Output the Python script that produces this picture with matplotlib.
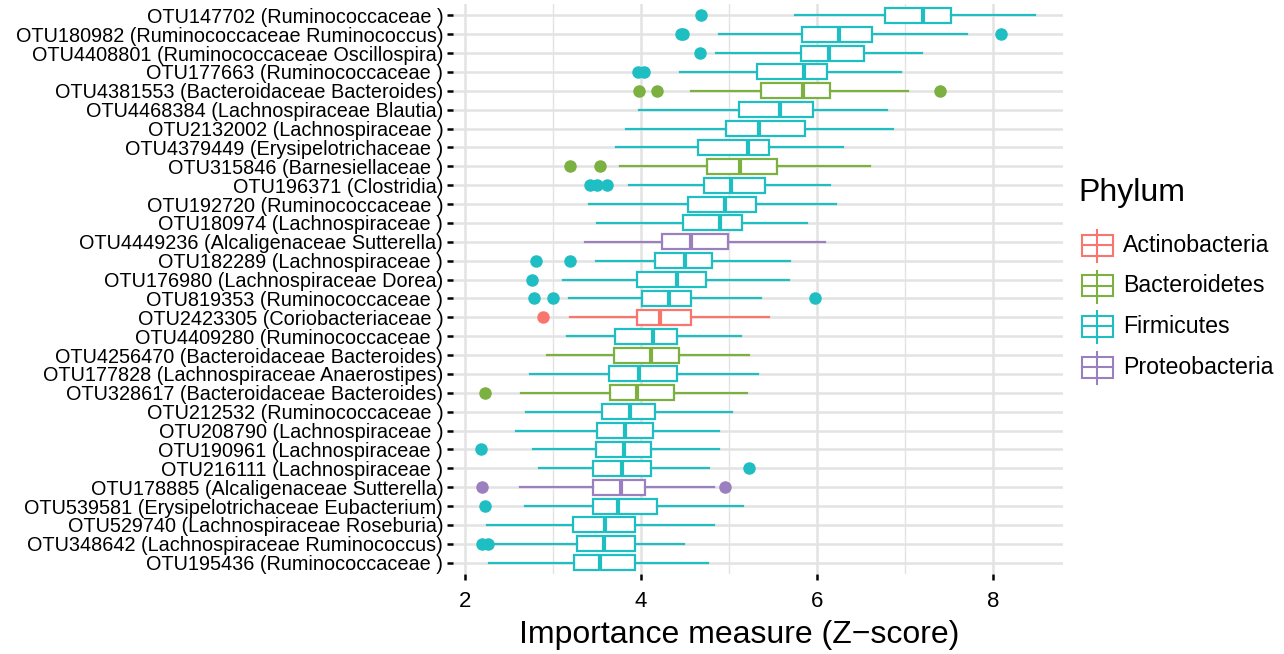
import matplotlib
matplotlib.use("Agg")
import matplotlib.pyplot as plt
from matplotlib.patches import Rectangle

plt.rcParams["font.family"] = ["Liberation Sans", "DejaVu Sans"]

# rows top -> bottom
OTUS = ["OTU147702 (Ruminococcaceae )", "OTU180982 (Ruminococcaceae Ruminococcus)",
        "OTU4408801 (Ruminococcaceae Oscillospira)", "OTU177663 (Ruminococcaceae )",
        "OTU4381553 (Bacteroidaceae Bacteroides)", "OTU4468384 (Lachnospiraceae Blautia)",
        "OTU2132002 (Lachnospiraceae )", "OTU4379449 (Erysipelotrichaceae )",
        "OTU315846 (Barnesiellaceae )", "OTU196371 (Clostridia)",
        "OTU192720 (Ruminococcaceae )", "OTU180974 (Lachnospiraceae )",
        "OTU4449236 (Alcaligenaceae Sutterella)", "OTU182289 (Lachnospiraceae )",
        "OTU176980 (Lachnospiraceae Dorea)", "OTU819353 (Ruminococcaceae )",
        "OTU2423305 (Coriobacteriaceae )", "OTU4409280 (Ruminococcaceae )",
        "OTU4256470 (Bacteroidaceae Bacteroides)", "OTU177828 (Lachnospiraceae Anaerostipes)",
        "OTU328617 (Bacteroidaceae Bacteroides)", "OTU212532 (Ruminococcaceae )",
        "OTU208790 (Lachnospiraceae )", "OTU190961 (Lachnospiraceae )",
        "OTU216111 (Lachnospiraceae )", "OTU178885 (Alcaligenaceae Sutterella)",
        "OTU539581 (Erysipelotrichaceae Eubacterium)", "OTU529740 (Lachnospiraceae Roseburia)",
        "OTU348642 (Lachnospiraceae Ruminococcus)", "OTU195436 (Ruminococcaceae )"]
PHYLUM = ["Firmicutes", "Firmicutes", "Firmicutes", "Firmicutes", "Bacteroidetes",
          "Firmicutes", "Firmicutes", "Firmicutes", "Bacteroidetes", "Firmicutes",
          "Firmicutes", "Firmicutes", "Proteobacteria", "Firmicutes", "Firmicutes",
          "Firmicutes", "Actinobacteria", "Firmicutes", "Bacteroidetes", "Firmicutes",
          "Bacteroidetes", "Firmicutes", "Firmicutes", "Firmicutes", "Firmicutes",
          "Proteobacteria", "Firmicutes", "Firmicutes", "Firmicutes", "Firmicutes"]
WHIS_LO = [5.75, 4.89, 4.85, 4.44, 4.57, 3.98, 3.83, 3.72, 3.76, 3.86,
           3.41, 3.50, 3.37, 3.49, 3.12, 3.18, 3.19, 3.16, 2.93, 2.74,
           2.64, 2.70, 2.58, 2.77, 2.84, 2.63, 2.68, 2.25, 2.31, 2.27]
Q1 = [6.77, 5.83, 5.82, 5.32, 5.36, 5.11, 4.97, 4.65, 4.75, 4.72,
      4.54, 4.48, 4.24, 4.16, 3.96, 4.01, 3.95, 3.71, 3.69, 3.64,
      3.65, 3.56, 3.50, 3.49, 3.46, 3.46, 3.45, 3.23, 3.27, 3.24]
MED = [7.20, 6.25, 6.14, 5.85, 5.84, 5.58, 5.34, 5.22, 5.13, 5.02,
       4.96, 4.90, 4.57, 4.50, 4.41, 4.32, 4.22, 4.14, 4.11, 3.98,
       3.96, 3.88, 3.82, 3.81, 3.79, 3.77, 3.74, 3.59, 3.58, 3.54]
Q3 = [7.52, 6.63, 6.53, 6.11, 6.15, 5.96, 5.86, 5.46, 5.55, 5.41,
      5.31, 5.15, 4.99, 4.81, 4.74, 4.57, 4.57, 4.41, 4.43, 4.41,
      4.38, 4.16, 4.14, 4.12, 4.12, 4.05, 4.18, 3.93, 3.93, 3.93]
WHIS_HI = [8.48, 7.71, 7.19, 6.95, 7.03, 6.80, 6.86, 6.30, 6.60, 6.15,
           6.22, 5.89, 6.09, 5.69, 5.68, 5.36, 5.46, 5.14, 5.23, 5.33,
           5.20, 5.03, 4.89, 4.89, 4.77, 4.83, 5.16, 4.83, 4.49, 4.76]
OUTLIERS = [[4.68], [4.45, 4.48, 8.09], [4.67], [3.97, 4.04], [3.98, 4.18, 7.40],
            [], [], [], [3.19, 3.53], [3.42, 3.50, 3.61],
            [], [], [], [2.81, 3.19], [2.76], [2.78, 3.00, 5.98], [2.89], [], [], [],
            [2.23], [], [], [2.18], [5.23], [2.19, 4.95], [2.23], [], [2.20, 2.26], []]

PHYLA = ["Actinobacteria", "Bacteroidetes", "Firmicutes", "Proteobacteria"]
COLORS = {"Actinobacteria": "#F8766D", "Bacteroidetes": "#7CB040",
          "Firmicutes": "#1FBEC3", "Proteobacteria": "#9B80BF"}
GRID = "#E3E3E3"

W, H = 1284, 654
fig = plt.figure(figsize=(W / 100, H / 100), dpi=100)
ax = fig.add_axes([453 / W, (H - 574) / H, 610 / W, 570 / H])

n = len(OTUS)
for i in range(n):
    pos = n - i
    col = COLORS[PHYLUM[i]]
    st = dict(med=MED[i], q1=Q1[i], q3=Q3[i], whislo=WHIS_LO[i], whishi=WHIS_HI[i],
              fliers=OUTLIERS[i])
    ax.bxp([st], positions=[pos], widths=0.8, orientation="horizontal",
           patch_artist=True, showcaps=False, manage_ticks=False,
           boxprops=dict(facecolor="white", edgecolor=col, lw=1.6),
           whiskerprops=dict(color=col, lw=1.6),
           medianprops=dict(color=col, lw=3.0, solid_capstyle="butt"),
           flierprops=dict(marker="o", markerfacecolor=col, markeredgecolor=col, markersize=8))

ax.set_xlim(1.865, 8.795)
ax.set_ylim(0.4, n + 0.6)
ax.set_yticks(range(n, 0, -1))
ax.set_yticklabels(OTUS, fontsize=14.3)
ax.set_xticks([2, 4, 6, 8])
ax.set_xticklabels(["2", "4", "6", "8"], fontsize=16)
ax.set_xticks([3, 5, 7], minor=True)
ax.tick_params(axis="both", which="major", length=4, width=1.8, color="black", pad=3)
ax.tick_params(axis="x", which="major", pad=8)
ax.tick_params(axis="x", which="minor", length=0)
ax.grid(True, which="major", color=GRID, lw=1.8, zorder=0)
ax.grid(True, which="minor", axis="x", color=GRID, lw=1.0, zorder=0)
ax.set_axisbelow(True)
for s in ax.spines.values():
    s.set_visible(False)
ax.set_xlabel("Importance measure (Z\u2212score)", fontsize=23)
ax.xaxis.set_label_coords((739 - 453) / 610, -0.08)

# legend drawn by hand, ggplot-style box keys
lax = fig.add_axes([0, 0, 1, 1], facecolor="none")
lax.set_xlim(0, W)
lax.set_ylim(H, 0)
lax.axis("off")
lax.text(1078, 193, "Phylum", fontsize=23, va="center", ha="left")
for k, ph in enumerate(PHYLA):
    yc = 245 + k * 40.7
    col = COLORS[ph]
    lax.plot([1097, 1097], [yc - 15, yc + 17], color=col, lw=1.5)
    lax.add_patch(Rectangle((1082, yc - 10.5), 31, 21, facecolor="white", edgecolor=col, lw=1.5))
    lax.plot([1082, 1113], [yc, yc], color=col, lw=1.5)
    lax.text(1123, yc, ph, fontsize=16.7, va="center", ha="left")

fig.savefig("out.png", dpi=100)
